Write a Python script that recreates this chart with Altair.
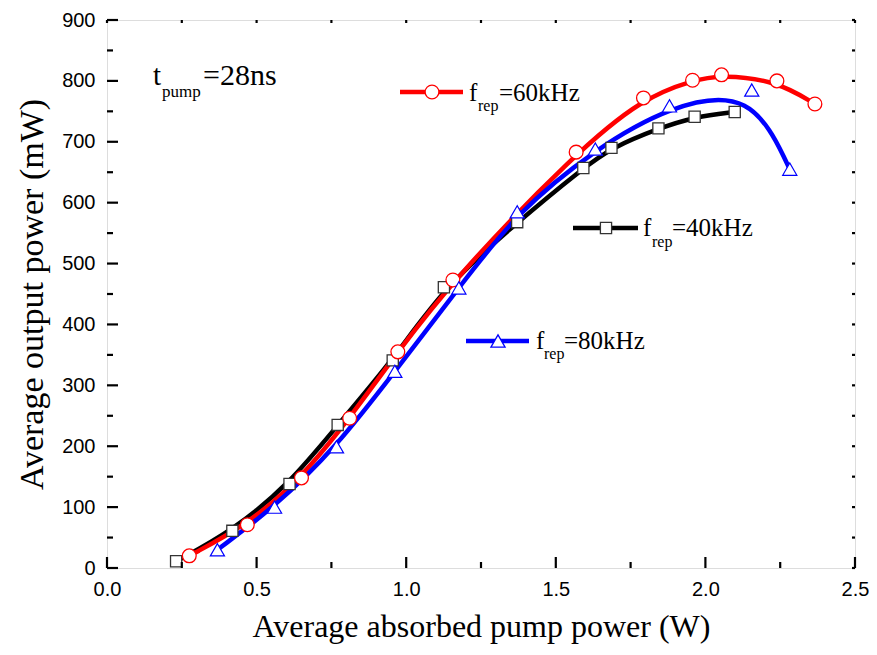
import altair as alt
import pandas as pd

# ---- data ----
x60 = [0.275, 0.469, 0.650, 0.811, 0.972, 1.156, 1.568, 1.793, 1.957, 2.054, 2.239, 2.366]
y60 = [20, 71, 148, 246, 355, 473, 683, 772, 801, 810, 800, 762]

x40 = [0.231, 0.419, 0.610, 0.771, 0.955, 1.126, 1.371, 1.592, 1.686, 1.843, 1.964, 2.098]
y40 = [11, 61, 138, 235, 341, 461, 568, 657, 690, 722, 741, 749]

x80 = [0.369, 0.560, 0.767, 0.962, 1.176, 1.371, 1.632, 1.880, 2.155, 2.282]
y80 = [30, 100, 199, 323, 460, 585, 688, 759, 785, 655]

x_major = [0.0, 0.5, 1.0, 1.5, 2.0, 2.5]
x_minor = [0.25, 0.75, 1.25, 1.75, 2.25]
y_major = [0, 100, 200, 300, 400, 500, 600, 700, 800, 900]
y_minor = [50, 150, 250, 350, 450, 550, 650, 750, 850]

x_title = "Average absorbed pump power (W)"
y_title = "Average output power (mW)"
legend_main = ["f", "f", "f"]
legend_sub = ["rep", "rep", "rep"]
legend_rest = ["=60kHz", "=40kHz", "=80kHz"]
note_main, note_sub, note_rest = "t", "pump", "=28ns"

W, H = 748, 548
SERIF = "Liberation Serif"
SANS = "Liberation Sans"

xs = alt.Scale(domain=[0, 2.5], nice=False, zero=False, padding=0)
ys = alt.Scale(domain=[0, 900], nice=False, zero=False, padding=0)
xaxis = alt.Axis(values=x_major, format=".1f", domain=False, ticks=False, grid=False,
                 labelFlush=False, labelOverlap=False,
                 labelFont=SANS, labelFontSize=20, labelColor="black", labelPadding=11,
                 title=x_title, titleFont=SERIF, titleFontSize=32, titleFontWeight="normal",
                 titleColor="black", titlePadding=12)
yaxis = alt.Axis(values=y_major, format="d", domain=False, ticks=False, grid=False,
                 labelFlush=False, labelOverlap=False,
                 labelFont=SANS, labelFontSize=20, labelColor="black", labelPadding=12,
                 title=y_title, titleFont=SERIF, titleFontSize=34, titleFontWeight="normal",
                 titleColor="black", titlePadding=12)

X = alt.X("x:Q", scale=xs, axis=xaxis)
Y = alt.Y("y:Q", scale=ys, axis=yaxis)

d60 = pd.DataFrame({"x": x60, "y": y60})
d40 = pd.DataFrame({"x": x40, "y": y40})
d80 = pd.DataFrame({"x": x80, "y": y80})


def curve(df, color):
    return alt.Chart(df).mark_line(color=color, strokeWidth=4.5, interpolate="basis").encode(
        x=X, y=Y, order=alt.Order("x:Q"))


curve40 = curve(d40, "black")
curve60 = curve(d60, "#ff0000")
curve80 = curve(d80, "#0000ff")

pts40 = alt.Chart(d40).mark_point(shape="square", size=125, filled=True, fill="white",
                                  stroke="#333333", strokeWidth=1.3, opacity=1).encode(x=X, y=Y)
pts60 = alt.Chart(d60).mark_point(shape="circle", size=190, filled=True, fill="white",
                                  stroke="#ff0000", strokeWidth=1.3, opacity=1).encode(x=X, y=Y)
pts80 = alt.Chart(d80).mark_point(shape="triangle-up", size=200, filled=True, fill="white",
                                  stroke="#0000ff", strokeWidth=1.2, opacity=1).encode(x=X, y=Y)


# inward ticks on all four sides
def xticks(vals, y0, y1):
    return alt.Chart(pd.DataFrame({"x": vals})).mark_rule(color="black", strokeWidth=2.2).encode(
        x=X, y=alt.value(y0), y2=alt.value(y1))


def yticks(vals, x0, x1):
    return alt.Chart(pd.DataFrame({"y": vals})).mark_rule(color="black", strokeWidth=2.2).encode(
        y=Y, x=alt.value(x0), x2=alt.value(x1))


ticks = [
    xticks(x_major, H, H - 11), xticks(x_minor, H, H - 6),
    xticks(x_major, 0, 3), xticks(x_minor, 0, 3),
    yticks(y_major, 0, 11), yticks(y_minor, 0, 6),
    yticks(y_major, W, W - 3), yticks(y_minor, W, W - 3),
]

one = pd.DataFrame({"k": [0]})


def txt(s, x, y, size):
    return alt.Chart(one).mark_text(text=s, font=SERIF, fontSize=size, align="left",
                                    baseline="alphabetic", color="black").encode(
        x=alt.value(x), y=alt.value(y))


def leg_line(x0, x1, y, color):
    return alt.Chart(one).mark_rule(color=color, strokeWidth=4.5).encode(
        x=alt.value(x0), x2=alt.value(x1), y=alt.value(y))


def leg_pt(x, y, shape, stroke, size):
    return alt.Chart(one).mark_point(shape=shape, size=size, filled=True, fill="white",
                                     stroke=stroke, strokeWidth=1.3, opacity=1).encode(
        x=alt.value(x), y=alt.value(y))


ox, oy = 107, 20
legend = [
    leg_line(400 - ox, 463 - ox, 92 - oy, "#ff0000"), leg_pt(432 - ox, 92 - oy, "circle", "#ff0000", 190),
    txt(legend_main[0], 469 - ox, 101 - oy, 25), txt(legend_sub[0], 478 - ox, 111 - oy, 16),
    txt(legend_rest[0], 499 - ox, 101 - oy, 25),
    leg_line(573 - ox, 638 - ox, 228 - oy, "black"), leg_pt(606 - ox, 228 - oy, "square", "#333333", 125),
    txt(legend_main[1], 643 - ox, 236 - oy, 25), txt(legend_sub[1], 652 - ox, 247 - oy, 16),
    txt(legend_rest[1], 672 - ox, 236 - oy, 25),
    leg_line(466 - ox, 529 - ox, 341 - oy, "#0000ff"), leg_pt(498 - ox, 341 - oy, "triangle-up", "#0000ff", 200),
    txt(legend_main[2], 536 - ox, 349 - oy, 25), txt(legend_sub[2], 544 - ox, 359 - oy, 16),
    txt(legend_rest[2], 564 - ox, 349 - oy, 25),
    txt(note_main, 153 - ox, 85 - oy, 29), txt(note_sub, 162 - ox, 97 - oy, 17),
    txt(note_rest, 203 - ox, 85 - oy, 30),
]

chart = alt.layer(curve40, curve60, curve80, pts40, pts60, pts80, *ticks, *legend).properties(
    width=W, height=H,
    autosize=alt.AutoSizeParams(type="none"),
    padding={"left": 99, "top": 12, "right": 14, "bottom": 79},
).configure_view(stroke="black", strokeWidth=3).configure(background="white")

chart.save("out.html", embed_options={"renderer": "svg", "actions": False})
